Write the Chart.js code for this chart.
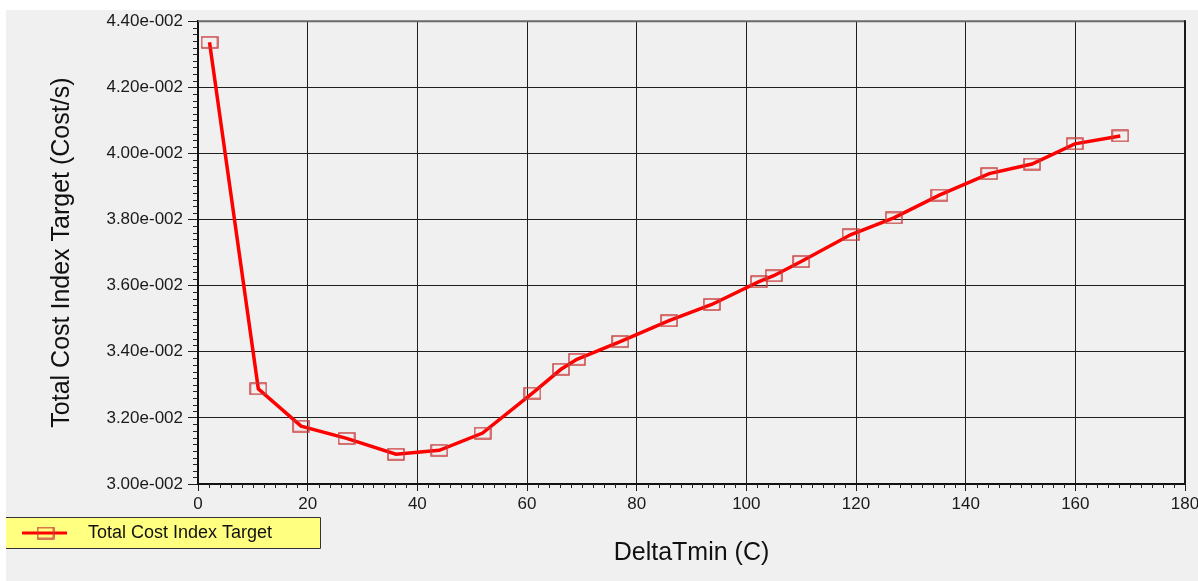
<!DOCTYPE html>
<html>
<head>
<meta charset="utf-8">
<script src="https://cdn.jsdelivr.net/npm/chart.js@4/dist/chart.umd.min.js"></script>
<style>
  html, body { margin: 0; padding: 0; background: #ffffff; }
  #wrap { position: absolute; left: 6px; top: 10px; width: 1192px; height: 571px; background: #f0f0f0; overflow: hidden; }
  #costChart { position: absolute; left: 0; top: -4px; }
</style>
</head>
<body>
<div id="wrap"><canvas id="costChart" width="1230" height="575"></canvas></div>
<script>
// DeltaTmin (C) against total cost index target (Cost/s)
const deltaTmin = [2.1, 11.0, 18.8, 27.1, 36.1, 44.0, 51.9, 61.0, 66.2, 69.1, 77.0, 85.9,
  93.7, 102.3, 105.0, 110.0, 119.0, 126.9, 135.2, 144.3, 152.1, 159.9, 168.2];
const totalCost = [0.04336, 0.03288, 0.03175, 0.03138, 0.03090, 0.03102, 0.03154, 0.03275,
  0.03347, 0.03377, 0.03431, 0.03494, 0.03543, 0.03612, 0.03630, 0.03673, 0.03754,
  0.03805, 0.03874, 0.03939, 0.03968, 0.04029, 0.04053];

const seriesName = 'Total Cost Index Target';
const xTitle = 'DeltaTmin (C)';
const yTitle = 'Total Cost Index Target (Cost/s)';

const FONT = "'Liberation Sans', Arial, sans-serif";

// hollow box marker, wider than tall
function boxMarker(w, h) {
  const c = document.createElement('canvas');
  c.width = w + 2; c.height = h + 2;
  const g = c.getContext('2d');
  g.strokeStyle = '#c83a3a';
  g.lineWidth = 1.4;
  g.strokeRect(1, 1, w, h);
  return c;
}
const marker = boxMarker(16, 11);

// minor tick marks outside the plot, every 2 C and every 0.0002
const minorTicks = {
  id: 'minorTicks',
  afterDraw(chart) {
    const { ctx, chartArea, scales } = chart;
    ctx.save();
    ctx.strokeStyle = '#222';
    ctx.lineWidth = 1;
    ctx.beginPath();
    for (let v = 0; v <= 180; v += 2) {
      if (v % 20 === 0) continue;
      const px = Math.round(scales.x.getPixelForValue(v)) + 0.5;
      ctx.moveTo(px, chartArea.bottom);
      ctx.lineTo(px, chartArea.bottom + 4);
    }
    for (let i = 0; i <= 70; i++) {
      if (i % 10 === 0) continue;
      const py = Math.round(scales.y.getPixelForValue(0.030 + i * 0.0002)) + 0.5;
      ctx.moveTo(chartArea.left - 5, py);
      ctx.lineTo(chartArea.left, py);
    }
    ctx.stroke();
    // plot frame: grey top edge, dark right edge
    ctx.lineWidth = 2;
    ctx.strokeStyle = '#6a6a6a';
    ctx.beginPath();
    ctx.moveTo(chartArea.left, chartArea.top);
    ctx.lineTo(chartArea.right, chartArea.top);
    ctx.stroke();
    ctx.strokeStyle = '#1a1a1a';
    ctx.beginPath();
    ctx.moveTo(chartArea.right, chartArea.top - 1);
    ctx.lineTo(chartArea.right, chartArea.bottom);
    ctx.stroke();
    ctx.restore();
  }
};

// yellow legend box below the plot
const boxLegend = {
  id: 'boxLegend',
  afterDraw(chart) {
    const ctx = chart.ctx;
    const x0 = 0, y0 = 511, w = 314, h = 31;
    ctx.save();
    ctx.fillStyle = '#ffff80';
    ctx.fillRect(x0, y0, w, h);
    ctx.strokeStyle = '#333';
    ctx.lineWidth = 1;
    ctx.beginPath();
    ctx.moveTo(x0, y0 + 0.5);
    ctx.lineTo(x0 + w + 0.5, y0 + 0.5);
    ctx.lineTo(x0 + w + 0.5, y0 + h + 0.5);
    ctx.lineTo(x0, y0 + h + 0.5);
    ctx.stroke();
    const cy = y0 + h / 2 + 0.5;
    ctx.strokeStyle = '#ff0000';
    ctx.lineWidth = 3;
    ctx.beginPath();
    ctx.moveTo(16, cy);
    ctx.lineTo(61, cy);
    ctx.stroke();
    ctx.drawImage(marker, 39.5 - marker.width / 2, cy - marker.height / 2);
    ctx.fillStyle = '#111';
    ctx.font = '18px ' + FONT;
    ctx.textBaseline = 'middle';
    ctx.fillText(seriesName, 82, cy);
    ctx.restore();
  }
};

new Chart(document.getElementById('costChart'), {
  type: 'line',
  data: {
    datasets: [{
      label: seriesName,
      data: deltaTmin.map((x, i) => ({ x: x, y: totalCost[i] })),
      borderColor: '#ff0000',
      borderWidth: 3.5,
      tension: 0,
      pointStyle: marker,
      pointRadius: 8,
      fill: false
    }]
  },
  options: {
    responsive: false,
    animation: false,
    layout: { padding: { top: 11, right: 51, left: 0, bottom: 0 } },
    plugins: {
      legend: { display: false },
      tooltip: { enabled: false }
    },
    scales: {
      x: {
        type: 'linear',
        min: 0,
        max: 180,
        afterFit: s => { s.height = 97; },
        ticks: { stepSize: 20, padding: 3, color: '#1a1a1a', font: { family: FONT, size: 17 } },
        grid: { color: '#1e1e1e', lineWidth: 1, tickLength: 7 },
        border: { color: '#111', width: 2 },
        title: { display: true, text: xTitle, color: '#111', font: { family: FONT, size: 25 }, padding: { top: 0, bottom: 13 } }
      },
      y: {
        min: 0.030,
        max: 0.044,
        afterFit: s => { s.width = 192; },
        ticks: {
          stepSize: 0.002,
          padding: 5,
          color: '#1a1a1a',
          font: { family: FONT, size: 17 },
          callback: v => (v * 100).toFixed(2) + 'e-002'
        },
        grid: { color: '#1e1e1e', lineWidth: 1, tickLength: 10 },
        border: { color: '#111', width: 2 },
        title: { display: true, text: yTitle, color: '#111', font: { family: FONT, size: 25 }, padding: { top: 41, bottom: 0 } }
      }
    }
  },
  plugins: [minorTicks, boxLegend]
});
</script>
</body>
</html>
